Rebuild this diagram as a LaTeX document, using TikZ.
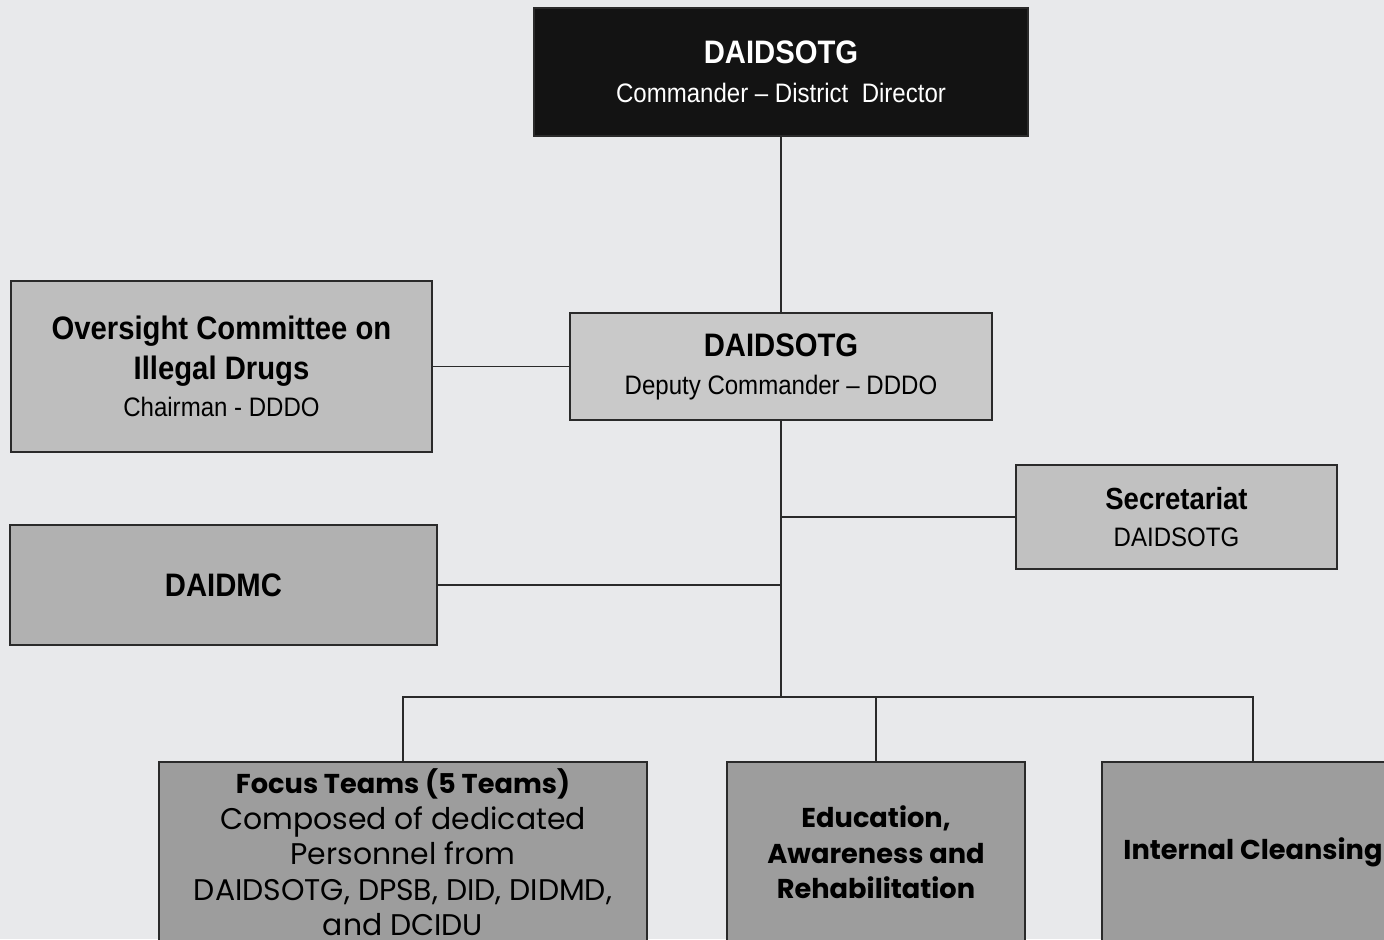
\documentclass[tikz,border=0pt]{standalone}
\usepackage{fontspec}
\setmainfont{Liberation Sans}
\newfontfamily\chartfont[FakeStretch=0.9]{Liberation Sans}
\newfontfamily\teamfont{Poppins}
\usepackage{tikz}
\usetikzlibrary{positioning,calc}

\definecolor{paper}{HTML}{E8E9EB}
\definecolor{topfill}{HTML}{131313}
\definecolor{deputyfill}{HTML}{C9C9C9}
\definecolor{sidefill}{HTML}{BEBEBE}
\definecolor{mcfill}{HTML}{B1B1B1}
\definecolor{teamfill}{HTML}{9D9D9D}
\definecolor{edge}{HTML}{2A2A2A}

\newcommand{\headtxt}[1]{{\fontsize{18.5}{22}\selectfont\bfseries #1}}
\newcommand{\subtxt}[1]{{\fontsize{15.2}{20}\selectfont #1}}
\newcommand{\teamhead}[1]{{\fontsize{15.5}{20.4}\selectfont\bfseries #1}}
\newcommand{\teamtxt}[1]{{\fontsize{17}{20.4}\selectfont #1}}

\begin{document}
\begin{tikzpicture}[box/.style={draw=edge, line width=0.9pt, rectangle, align=center, inner sep=0pt, font=\chartfont\fontsize{15.2}{20.6}\selectfont}, teambox/.style={box, fill=teamfill, minimum height=3.62cm, font=\teamfont\fontsize{17}{20.2}\selectfont}, link/.style={draw=edge, line width=1pt}]

	\useasboundingbox (0,0) rectangle (27.68,-18.78);
	\fill[paper] (0,0) rectangle (27.68,-18.78);
	\clip (0,0) rectangle (27.68,-18.78);

	\node [box, fill=topfill, text=white, minimum width=9.88cm, minimum height=2.56cm] (DT) at (15.62,-1.44)
		{\headtxt{DAIDSOTG}\\[1.6pt] \subtxt{Commander – District\ \ Director}};

	\node [box, fill=deputyfill] (DC)
		[below of=DT, node distance=5.89cm, minimum width=8.44cm, minimum height=2.14cm]
		{\headtxt{DAIDSOTG}\\[1pt] \subtxt{Deputy Commander – DDDO}};

	\node [box, fill=sidefill] (OC)
		[left of=DC, node distance=11.19cm, minimum width=8.42cm, minimum height=3.42cm]
		{\headtxt{Oversight Committee on}\\[2.2pt] \headtxt{Illegal Drugs}\\[0.5pt] \subtxt{Chairman - DDDO}};

	\node [box, fill=sidefill!95!white, minimum width=6.42cm, minimum height=2.08cm] (SEC) at (23.53,-10.34)
		{{\fontsize{17.4}{20}\selectfont\bfseries Secretariat}\\ \subtxt{DAIDSOTG}};

	\node [box, fill=mcfill, minimum width=8.54cm, minimum height=2.40cm] (MC) at (4.47,-11.70)
		{\headtxt{DAIDMC}};

	\node [teambox, minimum width=9.76cm] (FT) at (8.06,-17.05)
		{\teamhead{Focus Teams (5 Teams)}\\ \teamtxt{Composed of dedicated}\\ \teamtxt{Personnel from}\\ \teamtxt{DAIDSOTG, DPSB, DID, DIDMD,}\\ \teamtxt{and DCIDU}};

	\node [teambox, minimum width=5.96cm] (EA)
		[right of=FT, node distance=9.46cm]
		{\teamhead{Education,}\\ \teamhead{Awareness and}\\ \teamhead{Rehabilitation}};

	\node [teambox, minimum width=6.04cm] (IC)
		[right of=EA, node distance=7.54cm]
		{\teamhead{Internal Cleansing}};

	\coordinate (bus) at ($(DC.south)+(0,-5.53)$);

	\draw[link] (DT) -- (DC);
	\draw[link] (OC) -- (DC);
	\draw[link] (DC) -- (bus);
	\draw[link] (SEC) -- (SEC -| DC);
	\draw[link] (MC) -- (MC -| DC);
	\draw[link] (FT.north) |- (bus) -| (IC.north);
	\draw[link] (EA.north) -- (EA.north |- bus);

\end{tikzpicture}
\end{document}
